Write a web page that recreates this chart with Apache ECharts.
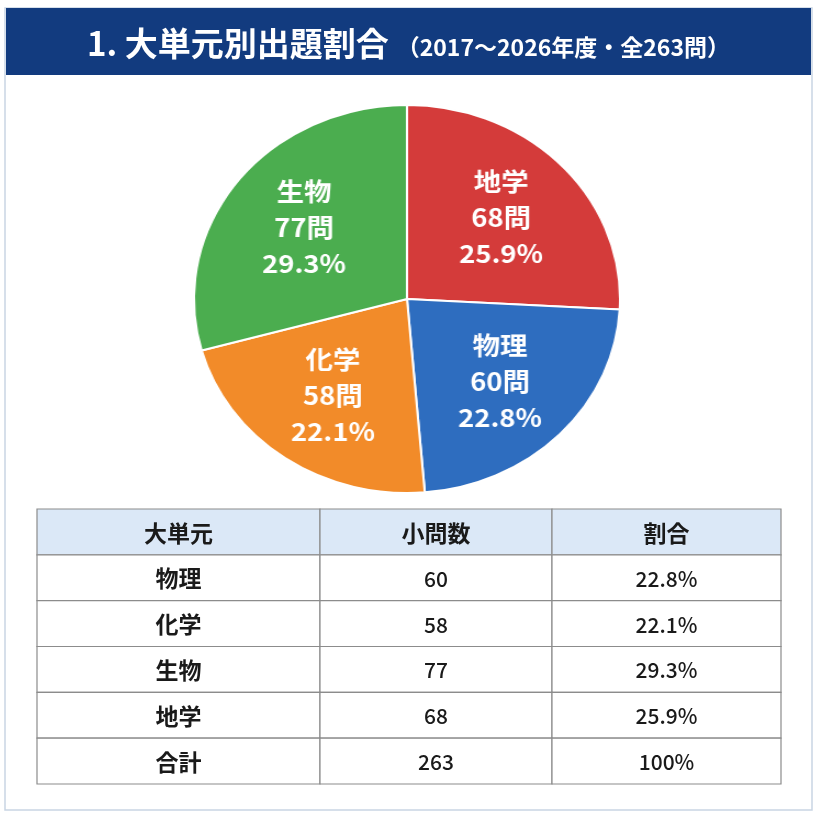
<!DOCTYPE html>
<html><head><meta charset="utf-8">
<script src="https://cdn.jsdelivr.net/npm/echarts@6/dist/echarts.min.js"></script>
<style>
html,body{margin:0;padding:0;background:#fff;}
#wrap{position:relative;width:817px;height:817px;overflow:hidden;}
#main{position:absolute;left:0;top:0;width:817px;height:817px;}
#pie{position:absolute;left:0;top:0;width:817px;height:600px;transform:scaleX(1.098);transform-origin:407px 0;}
</style></head><body>
<div id="wrap"><div id="main"></div><div id="pie"></div></div>
<script>
// ---- data ----
const titleMain = '1. 大単元別出題割合';
const titleSub = '（2017〜2026年度・全263問）';
const units = ['物理', '化学', '生物', '地学'];
const counts = [60, 58, 77, 68];
const percents = ['22.8%', '22.1%', '29.3%', '25.9%'];
const totalLabel = '合計';
const totalCount = 263;
const totalPercent = '100%';
const tableHeader = ['大単元', '小問数', '割合'];
const pieOrder = ['地学', '物理', '化学', '生物']; // clockwise from 12 o'clock

// ---- styles ----
const FONT = '"Noto Sans CJK JP", "Noto Sans", sans-serif';
const unitColors = { '物理': '#2e6dbf', '化学': '#f28b29', '生物': '#4bad4f', '地学': '#d43b3a' };

// ---- pie ----
const pieData = pieOrder.map(u => {
  const i = units.indexOf(u);
  return { name: u, value: counts[i], pct: percents[i], itemStyle: { color: unitColors[u] } };
});
const pieChart = echarts.init(document.getElementById('pie'), null, { renderer: 'canvas' });
pieChart.setOption({
  animation: false,
  series: [
    {
      type: 'pie', center: [407, 299], radius: [0, 194], startAngle: 90, clockwise: true,
      data: pieData,
      itemStyle: { borderColor: '#ffffff', borderWidth: 2 },
      label: { show: false }, labelLine: { show: false }, silent: true
    },
    {
      type: 'pie', center: [407, 299], radius: [36, 194], startAngle: 90, clockwise: true,
      data: pieData.map(d => ({ name: d.name, value: d.value, pct: d.pct, itemStyle: { color: 'rgba(0,0,0,0)' } })),
      silent: true,
      labelLine: { show: false },
      label: {
        show: true, position: 'inside',
        formatter: p => p.name + '\n' + p.value + '問\n' + p.data.pct,
        color: '#ffffff', fontFamily: FONT, fontWeight: 'bold', fontSize: 25, lineHeight: 36, align: 'center'
      }
    }
  ]
});

// ---- table ----
const tableRows = [tableHeader]
  .concat(units.map((u, i) => [u, String(counts[i]), percents[i]]))
  .concat([[totalLabel, String(totalCount), totalPercent]]);
const rowKeys = tableRows.map((r, i) => 'r' + i);
const cells = [];
tableRows.forEach((r, ri) => r.forEach((t, ci) => cells.push([ci, ri])));
const colEdges = [0, 283 / 744, 515 / 744, 1];

const main = echarts.init(document.getElementById('main'), null, { renderer: 'canvas' });
main.setOption({
  animation: false,
  backgroundColor: '#ffffff',
  graphic: [
    { type: 'rect', z: 0, shape: { x: 5, y: 8, width: 807, height: 802 }, style: { fill: '#ffffff', stroke: '#c9d5e3', lineWidth: 1.5 } },
    { type: 'rect', z: 1, shape: { x: 6, y: 8, width: 805, height: 67 }, style: { fill: '#123b7f' } }
  ],
  title: {
    text: '{a|' + titleMain + '}{b|' + titleSub + '}',
    left: 'center', top: 19, padding: 0,
    textStyle: {
      rich: {
        a: { fontFamily: FONT, fontSize: 33, fontWeight: 'bold', color: '#ffffff', verticalAlign: 'bottom', lineHeight: 41 },
        b: { fontFamily: FONT, fontSize: 23, fontWeight: 'bold', color: '#ffffff', verticalAlign: 'bottom', lineHeight: 38, padding: [0, 0, 1, 8] }
      }
    }
  },
  grid: { left: 37, right: 36, top: 509, bottom: 33 },
  xAxis: { type: 'value', min: 0, max: 1, show: false },
  yAxis: { type: 'category', data: rowKeys, inverse: true, show: false },
  series: [{
    type: 'custom', silent: true,
    data: cells,
    renderItem: (params, api) => {
      const ci = api.value(0), ri = api.value(1);
      const a = api.coord([colEdges[ci], ri]);
      const b = api.coord([colEdges[ci + 1], ri]);
      const h = api.size([0, 1])[1];
      const txt = tableRows[ri][ci];
      const isHeader = ri === 0;
      const isName = ci === 0;
      const strong = isHeader || isName;
      return {
        type: 'group',
        children: [
          { type: 'rect', shape: { x: a[0], y: a[1] - h / 2, width: b[0] - a[0], height: h },
            style: { fill: isHeader ? '#dbe8f7' : '#ffffff', stroke: '#8c8c8c', lineWidth: 1.2 } },
          { type: 'text', style: { text: txt, x: (a[0] + b[0]) / 2, y: a[1] + 1, align: 'center', verticalAlign: 'middle',
              fontFamily: FONT, fontSize: strong ? 23 : 21, fontWeight: strong ? 'bold' : 500, fill: '#1a1a1a' } }
        ]
      };
    }
  }]
});
</script>
</body></html>
